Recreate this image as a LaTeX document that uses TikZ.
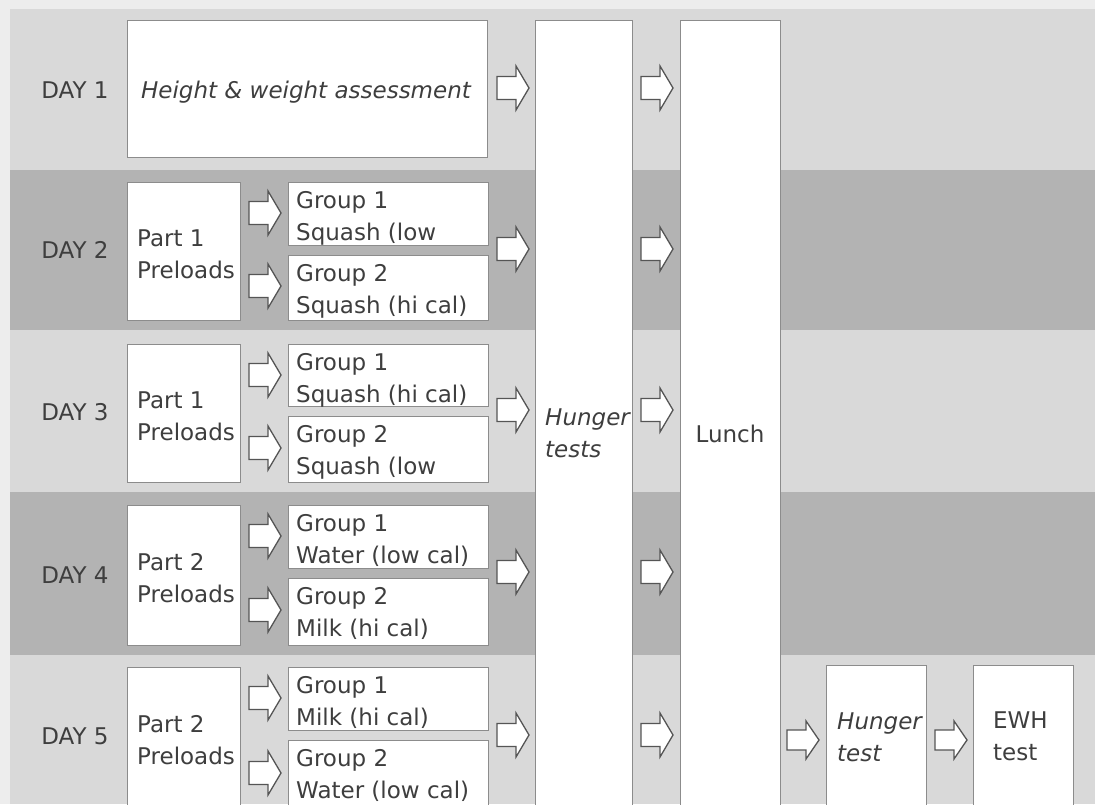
\documentclass[tikz,border=0pt]{standalone}
\usepackage{fontspec}
\setmainfont{DejaVu Sans}
\begin{document}
\begin{tikzpicture}[x=1pt,y=-1pt,
  every node/.style={text=txt, font=\fontsize{23}{32}\selectfont, inner sep=0pt},
  box/.style={draw=boxline, fill=white, line width=1pt},
  lbl/.style={anchor=base west, align=left},
  barrow/.pic={\draw[draw=arrline, fill=white, line width=1.3pt, line join=miter]
     (-16,-11.5) -- (3,-11.5) -- (3,-22) -- (16,0) -- (3,22) -- (3,11.5) -- (-16,11.5) -- cycle;},
  sarrow/.pic={\draw[draw=arrline, fill=white, line width=1.3pt, line join=miter]
     (-16,-10) -- (3,-10) -- (3,-19) -- (16,0) -- (3,19) -- (3,10) -- (-16,10) -- cycle;}]
\definecolor{txt}{HTML}{3E3E3E}
\definecolor{boxline}{HTML}{8C8C8C}
\definecolor{arrline}{HTML}{555555}
\definecolor{lightband}{HTML}{D9D9D9}
\definecolor{darkband}{HTML}{B3B3B3}
\definecolor{margin}{HTML}{EDEDED}
\useasboundingbox (0,0) rectangle (1095,804);
% background
\fill[margin] (0,0) rectangle (1095,804);
\fill[lightband] (10,9) rectangle (1095,170);
\fill[darkband] (10,170) rectangle (1095,330);
\fill[lightband] (10,330) rectangle (1095,492);
\fill[darkband] (10,492) rectangle (1095,655);
\fill[lightband] (10,655) rectangle (1095,804);

% day labels
\node[anchor=base] (d1) at (75,98) {DAY 1};
\node[anchor=base] (d2) at (75,258) {DAY 2};
\node[anchor=base] (d3) at (75,420) {DAY 3};
\node[anchor=base] (d4) at (75,583) {DAY 4};
\node[anchor=base] (d5) at (75,744) {DAY 5};

% columns
\draw[box] (535,20) rectangle (632,820);
\node (hunger) [lbl] at (545,457) {\itshape Hunger\\\itshape tests};
\draw[box] (680,20) rectangle (780,820);
\node (lunch) [anchor=base] at (730,442) {Lunch};

% day 1
\draw[box] (127,20) rectangle (487,157);
\node (hw) [anchor=base] at (306,98) {\itshape Height \& weight assessment};

% part boxes
\draw[box] (127,182) rectangle (240,320);
\node (p2) [lbl] at (137,278) {Part 1\\Preloads};
\draw[box] (127,344) rectangle (240,482);
\node (p3) [lbl] at (137,440) {Part 1\\Preloads};
\draw[box] (127,505) rectangle (240,645);
\node (p4) [lbl] at (137,602) {Part 2\\Preloads};
\draw[box] (127,667) rectangle (240,820);
\node (p5) [lbl] at (137,764) {Part 2\\Preloads};

% group boxes
\draw[box] (288,182) rectangle (488,245);
\node (g21) [lbl] at (296,240) {Group 1\\Squash (low};
\draw[box] (288,255) rectangle (488,320);
\node (g22) [lbl] at (296,313) {Group 2\\Squash (hi cal)};
\draw[box] (288,344) rectangle (488,406);
\node (g31) [lbl] at (296,402) {Group 1\\Squash (hi cal)};
\draw[box] (288,416) rectangle (488,482);
\node (g32) [lbl] at (296,474) {Group 2\\Squash (low};
\draw[box] (288,505) rectangle (488,568);
\node (g41) [lbl] at (296,563) {Group 1\\Water (low cal)};
\draw[box] (288,578) rectangle (488,645);
\node (g42) [lbl] at (296,636) {Group 2\\Milk (hi cal)};
\draw[box] (288,667) rectangle (488,730);
\node (g51) [lbl] at (296,725) {Group 1\\Milk (hi cal)};
\draw[box] (288,740) rectangle (488,820);
\node (g52) [lbl] at (296,798) {Group 2\\Water (low cal)};

% day 5 extra boxes
\draw[box] (826,665) rectangle (926,820);
\node (ht) [lbl] at (837,761) {\itshape Hunger\\\itshape test};
\draw[box] (973,665) rectangle (1073,820);
\node (ewh) [lbl] at (993,760) {EWH\\test};

% arrows: day 1
\pic (a1a) at (513,88) {barrow};
\pic (a1b) at (657,88) {barrow};
% group arrows
\pic (a2g1) at (265,213) {barrow};
\pic (a2g2) at (265,286) {barrow};
\pic (a3g1) at (265,375) {barrow};
\pic (a3g2) at (265,448) {barrow};
\pic (a4g1) at (265,536) {barrow};
\pic (a4g2) at (265,610) {barrow};
\pic (a5g1) at (265,698) {barrow};
\pic (a5g2) at (265,773) {barrow};
% to hunger tests
\pic (a2h) at (513,249) {barrow};
\pic (a3h) at (513,410) {barrow};
\pic (a4h) at (513,572) {barrow};
\pic (a5h) at (513,735) {barrow};
% to lunch
\pic (a2l) at (657,249) {barrow};
\pic (a3l) at (657,410) {barrow};
\pic (a4l) at (657,572) {barrow};
\pic (a5l) at (657,735) {barrow};
% day 5 after lunch
\pic (a5t) at (803,740) {sarrow};
\pic (a5e) at (951,740) {sarrow};
\end{tikzpicture}
\end{document}
